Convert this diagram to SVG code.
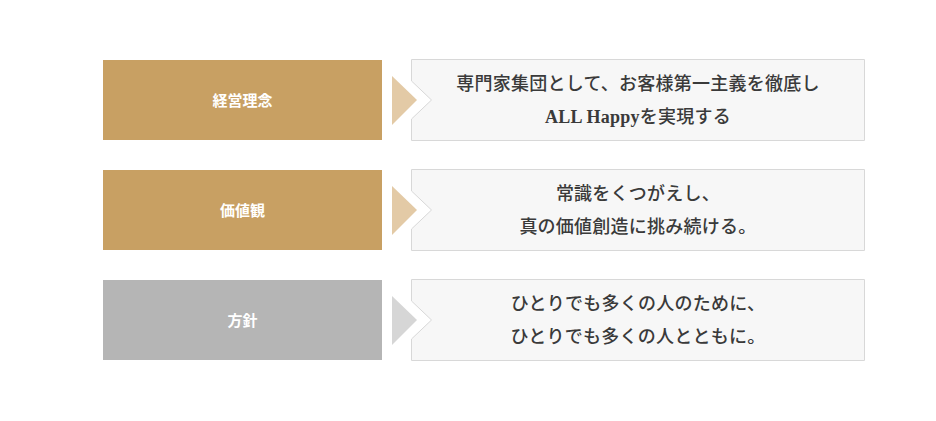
<svg xmlns="http://www.w3.org/2000/svg" width="936" height="421" viewBox="0 0 936 421">
<style>
.lab{font-family:"Noto Sans CJK JP","Liberation Sans",sans-serif;font-size:15px;font-weight:bold;fill:#ffffff;text-anchor:middle}
.desc{font-family:"Liberation Serif","Noto Sans CJK JP",serif;font-size:18px;font-weight:500;letter-spacing:0.25px;fill:#3a3a3a;text-anchor:middle}
.lat{font-weight:bold}
.box{fill:#f7f7f7;stroke:#d8d8d8;stroke-width:1}
.gold{fill:#c8a063}
.grey{fill:#b5b5b5}
.tgold{fill:#e3caa6}
.tgrey{fill:#d6d6d6}
</style>
<rect width="936" height="421" fill="#ffffff"/>
<g id="row1">
  <g id="label1"><rect class="gold" x="103" y="60" width="279" height="80"/><text class="lab" x="242.5" y="105.5">経営理念</text></g>
  <g id="desc1"><path class="box" d="M411.5 59.5H864.5V140.5H411.5V119L431.5 100L411.5 81Z"/>
    <text class="desc" x="638" y="90">専門家集団として、お客様第一主義を徹底し</text>
    <text class="desc" x="638" y="123"><tspan class="lat">ALL Happy</tspan>を実現する</text></g>
</g>
<g id="row2">
  <g id="label2"><rect class="gold" x="103" y="170" width="279" height="80"/><text class="lab" x="242.5" y="215.5">価値観</text></g>
  <g id="desc2"><path class="box" d="M411.5 169.5H864.5V250.5H411.5V229L431.5 210L411.5 191Z"/>
    <text class="desc" x="638" y="200">常識をくつがえし、</text>
    <text class="desc" x="638" y="233">真の価値創造に挑み続ける。</text></g>
</g>
<g id="row3">
  <g id="label3"><rect class="grey" x="103" y="280" width="279" height="80"/><text class="lab" x="242.5" y="325.5">方針</text></g>
  <g id="desc3"><path class="box" d="M411.5 279.5H864.5V360.5H411.5V339L431.5 320L411.5 301Z"/>
    <text class="desc" x="638" y="310">ひとりでも多くの人のために、</text>
    <text class="desc" x="638" y="343">ひとりでも多くの人とともに。</text></g>
</g>
<g id="connectors">
  <polygon class="tgold" points="392,76 417,100 392,125"/>
  <polygon class="tgold" points="392,186 417,210 392,235"/>
  <polygon class="tgrey" points="392,296 417,320 392,345"/>
</g>
</svg>
